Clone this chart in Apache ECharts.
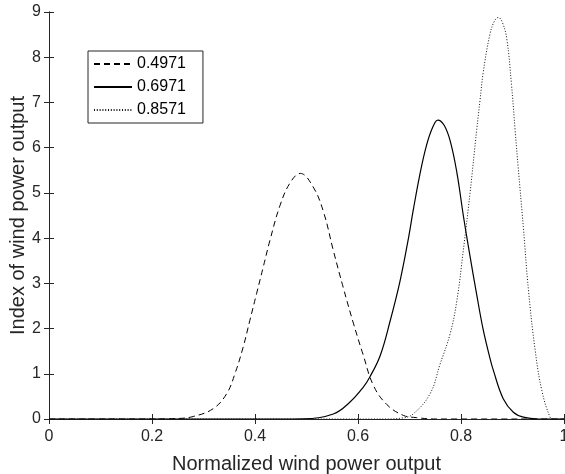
<!DOCTYPE html>
<html>
<head>
<meta charset="utf-8">
<script src="https://cdn.jsdelivr.net/npm/echarts@6/dist/echarts.min.js"></script>
<style>html,body{margin:0;padding:0;background:#fff}#c{width:565px;height:474px}</style>
</head>
<body>
<div id="c"></div>
<script>
const seriesNames = ['0.4971', '0.6971', '0.8571'];
const xTicks = [0, 0.2, 0.4, 0.6, 0.8, 1];
const yTicks = [0, 1, 2, 3, 4, 5, 6, 7, 8, 9];

const dashedX = [0, 0.20, 0.248, 0.28, 0.319, 0.345, 0.361, 0.377, 0.390, 0.403, 0.416, 0.429, 0.4485, 0.468, 0.488, 0.513, 0.533, 0.552, 0.5715, 0.591, 0.610, 0.630, 0.656, 0.688, 0.714, 0.75, 1];
const dashedY = [0, 0, 0.01, 0.055, 0.23, 0.56, 1.0, 1.59, 2.18, 2.77, 3.36, 3.95, 4.72, 5.22, 5.43, 5.13, 4.58, 3.73, 2.9, 2.12, 1.42, 0.74, 0.32, 0.08, 0.03, 0, 0];

const solidX = [0, 0.45, 0.494, 0.552, 0.584, 0.610, 0.623, 0.643, 0.662, 0.6816, 0.698, 0.707, 0.720, 0.733, 0.745, 0.755, 0.767, 0.779, 0.792, 0.8045, 0.8175, 0.8305, 0.843, 0.855, 0.863, 0.882, 0.9016, 0.921, 0.95, 1];
const solidY = [0, 0, 0.005, 0.11, 0.37, 0.70, 0.93, 1.40, 2.15, 3.05, 4.0, 4.6, 5.4, 6.05, 6.45, 6.61, 6.5, 6.15, 5.45, 4.5, 3.6, 2.75, 1.98, 1.4, 1.07, 0.45, 0.15, 0.04, 0, 0];

const dottedX = [0, 0.65, 0.685, 0.707, 0.740, 0.759, 0.779, 0.792, 0.8045, 0.8175, 0.8305, 0.837, 0.843, 0.856, 0.865, 0.8725, 0.880, 0.889, 0.898, 0.905, 0.911, 0.921, 0.931, 0.944, 0.957, 0.973, 0.98, 1];
const dottedY = [0, 0, 0.02, 0.11, 0.56, 1.2, 1.89, 2.62, 3.73, 4.99, 6.4, 7.05, 7.65, 8.5, 8.8, 8.88, 8.78, 8.4, 7.4, 6.4, 5.57, 4.25, 2.85, 1.52, 0.63, 0.04, 0, 0];

function pairs(xs, ys) { return xs.map((x, i) => [x, ys[i]]); }

const axisColor = '#262626';
const font = 'Liberation Sans, Arial, Helvetica, sans-serif';

const chart = echarts.init(document.getElementById('c'), null, {renderer: 'canvas'});
const baseAxis = {
  axisLine: {show: true, lineStyle: {color: axisColor, width: 1}},
  axisTick: {show: true, inside: true, length: 5, lineStyle: {color: axisColor}},
  splitLine: {show: false}
};
chart.setOption({
  animation: false,
  backgroundColor: '#fff',
  grid: {left: 49, right: 1, top: 12, bottom: 55, containLabel: false, outerBoundsMode: 'none'},
  legend: {
    orient: 'vertical', left: 88, top: 51,
    data: seriesNames,
    itemWidth: 38, itemHeight: 14, itemGap: 7,
    padding: [5, 17, 5, 5],
    borderColor: axisColor, borderWidth: 1, backgroundColor: '#fff',
    itemStyle: {opacity: 0},
    textStyle: {fontFamily: font, fontSize: 16, color: '#000'}
  },
  xAxis: [
    Object.assign({}, baseAxis, {
      type: 'value', min: xTicks[0], max: xTicks[xTicks.length - 1], interval: 0.2,
      position: 'bottom',
      name: 'Normalized wind power output', nameLocation: 'middle', nameGap: 35, nameMoveOverlap: false,
      nameTextStyle: {fontFamily: font, fontSize: 20, color: axisColor},
      axisLabel: {fontFamily: font, fontSize: 16, color: axisColor, margin: 10}
    }),
    Object.assign({}, baseAxis, {
      type: 'value', min: xTicks[0], max: xTicks[xTicks.length - 1], interval: 0.2,
      position: 'top', axisLabel: {show: false}
    })
  ],
  yAxis: [
    Object.assign({}, baseAxis, {
      type: 'value', min: yTicks[0], max: yTicks[yTicks.length - 1], interval: 1,
      position: 'left',
      name: 'Index of wind power output', nameLocation: 'middle', nameGap: 21, nameMoveOverlap: false,
      nameTextStyle: {fontFamily: font, fontSize: 20, color: axisColor},
      axisLabel: {fontFamily: font, fontSize: 16, color: axisColor, margin: 8}
    }),
    Object.assign({}, baseAxis, {
      type: 'value', min: yTicks[0], max: yTicks[yTicks.length - 1], interval: 1,
      position: 'right', axisLabel: {show: false}
    })
  ],
  series: [
    {name: seriesNames[0], type: 'line', data: pairs(dashedX, dashedY), showSymbol: false, symbol: 'none',
     smooth: 0.4, lineStyle: {color: '#000', width: 1, type: [6, 4]}, itemStyle: {color: '#000'}},
    {name: seriesNames[1], type: 'line', data: pairs(solidX, solidY), showSymbol: false, symbol: 'none',
     smooth: 0.4, lineStyle: {color: '#000', width: 1.2, type: 'solid'}, itemStyle: {color: '#000'}},
    {name: seriesNames[2], type: 'line', data: pairs(dottedX, dottedY), showSymbol: false, symbol: 'none',
     smooth: 0.4, lineStyle: {color: '#111', width: 1, type: [1, 1.8]}, itemStyle: {color: '#000'}}
  ]
});
</script>
</body>
</html>
